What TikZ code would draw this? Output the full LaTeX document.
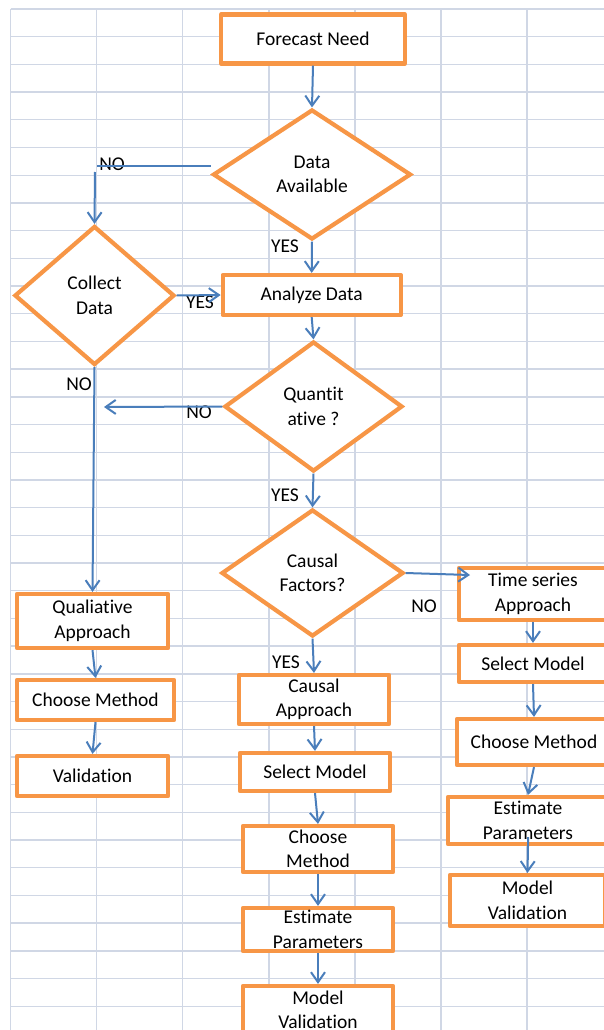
\documentclass[tikz,border=0pt]{standalone}
\usepackage{fontspec}
\setmainfont{Carlito}[Ligatures=CommonOff]
\usepackage{tikz}
\usetikzlibrary{arrows.meta,shapes.geometric}
\usepackage{xcolor}
\definecolor{fcorange}{RGB}{247,150,70}
\definecolor{fcblue}{RGB}{74,126,187}
\definecolor{fcgrid}{RGB}{208,215,229}
\tikzstyle{box} = [draw=fcorange, line width=4.2pt, fill=white, align=center, inner sep=0pt, line join=round]
\tikzstyle{decision} = [diamond, draw=fcorange, line width=4.2pt, fill=white, align=center, inner sep=0pt]
\tikzstyle{arrow} = [line width=2pt, -{Straight Barb[length=10pt,width=14pt]}, color=fcblue]
\tikzstyle{flowline} = [line width=2pt, color=fcblue]
\tikzstyle{yesno} = [inner sep=0pt]
\tikzstyle{gridline} = [line width=1.4pt, color=fcgrid]

\begin{document}
\begin{tikzpicture}[x=1pt, y=-1pt, font=\fontsize{19.5}{24.5}\selectfont]
    % Sheet and grid
    \path[use as bounding box, fill=white] (0,0) rectangle (604,1030);
    \foreach \gx in {0,...,6}
        \draw[gridline] (10.5+86.1*\gx, 9) -- (10.5+86.1*\gx, 1030);
    \foreach \gy in {0,...,36}
        \draw[gridline] (10.5, 9+27.7*\gy) -- (604, 9+27.7*\gy);

    % Main column
    \node[box, minimum width=184pt, minimum height=49pt] (need) at (313,39) {Forecast Need};
    \node[decision, minimum width=198pt, minimum height=130pt] (avail) at (312,174.5) {Data\\Available};
    \node[decision, minimum width=160pt, minimum height=139pt] (collect) at (94.5,295.5) {Collect\\Data};
    \node[box, minimum width=178pt, minimum height=40pt] (analyze) at (311.7,295) {Analyze Data};
    \node[decision, minimum width=178pt, minimum height=130pt] (quant) at (313.5,406.5) {Quantit\\ative ?};
    \node[decision, minimum width=182pt, minimum height=127pt] (causal) at (312.5,573) {Causal\\Factors?};

    % Causal branch
    \node[box, minimum width=150pt, minimum height=49pt] (causalApp) at (314,699.5) {Causal\\Approach};
    \node[box, minimum width=150pt, minimum height=38pt] (selectC) at (315,772) {Select Model};
    \node[box, minimum width=150pt, minimum height=46pt] (chooseC) at (318,849) {Choose\\Method};
    \node[box, minimum width=150pt, minimum height=43pt] (estimC) at (318,929.5) {Estimate\\Parameters};
    \node[box, minimum width=150pt, minimum height=48pt] (validC) at (318,1010) {Model\\Validation};

    % Time series branch
    \node[box, minimum width=148pt, minimum height=52pt] (series) at (533,594) {Time series\\Approach};
    \node[box, minimum width=148pt, minimum height=37pt] (selectT) at (533,663.5) {Select Model};
    \node[box, minimum width=154pt, minimum height=46pt] (chooseT) at (534,742) {Choose Method};
    \node[box, minimum width=160pt, minimum height=47pt] (estimT) at (528,820.5) {Estimate\\Parameters};
    \node[box, minimum width=155pt, minimum height=51pt] (validT) at (527.5,900.5) {Model\\Validation};

    % Qualitative branch
    \node[box, minimum width=151pt, minimum height=54pt] (quali) at (92.5,621) {Qualiative\\Approach};
    \node[box, minimum width=157pt, minimum height=40pt] (chooseQ) at (95.5,700) {Choose Method};
    \node[box, minimum width=151pt, minimum height=40pt] (validQ) at (92.5,776) {Validation};

    % Yes / No labels
    \node[yesno] (noAvail) at (112,164.5) {NO};
    \node[yesno] (yesAvail) at (285,246) {YES};
    \node[yesno] (yesCollect) at (200,302) {YES};
    \node[yesno] (noCollect) at (79,384) {NO};
    \node[yesno] (noQuant) at (199,412) {NO};
    \node[yesno] (yesQuant) at (285,495) {YES};
    \node[yesno] (noCausal) at (424,606) {NO};
    \node[yesno] (yesCausal) at (286,662) {YES};

    % Connectors
    \coordinate (availNo) at (97,166);
    \coordinate (collectIn) at (95,172);
    \coordinate (quantNo) at (104,407);
    \coordinate (seriesIn) at (470,575);
    \draw[arrow] (need.south) -- (avail.north);
    \draw[flowline] (avail.west |- availNo) -- (availNo);
    \draw[arrow] (collectIn) -- (collect.north);
    \draw[arrow] (avail.south) -- (analyze.north);
    \draw[arrow] (collect.east) -- (analyze.west);
    \draw[arrow] (collect.south) -- (quali.north);
    \draw[arrow] (analyze.south) -- (quant.north);
    \draw[arrow] (quant.west) -- (quantNo);
    \draw[arrow] (quant.south) -- (causal.north);
    \draw[arrow] (causal.east) -- (seriesIn);
    \draw[arrow] (causal.south) -- (causalApp.north);
    \draw[arrow] (causalApp.south) -- (selectC.north);
    \draw[arrow] (selectC.south) -- (chooseC.north);
    \draw[arrow] (chooseC.south) -- (estimC.north);
    \draw[arrow] (estimC.south) -- (validC.north);
    \draw[arrow] (series.south) -- (selectT.north);
    \draw[arrow] (selectT.south) -- (chooseT.north);
    \draw[arrow] (chooseT.south) -- (estimT.north);
    \draw[arrow, shorten <=-9pt] (estimT.south) -- (validT.north);
    \draw[arrow] (quali.south) -- (chooseQ.north);
    \draw[arrow] (chooseQ.south) -- (validQ.north);
\end{tikzpicture}
\end{document}
